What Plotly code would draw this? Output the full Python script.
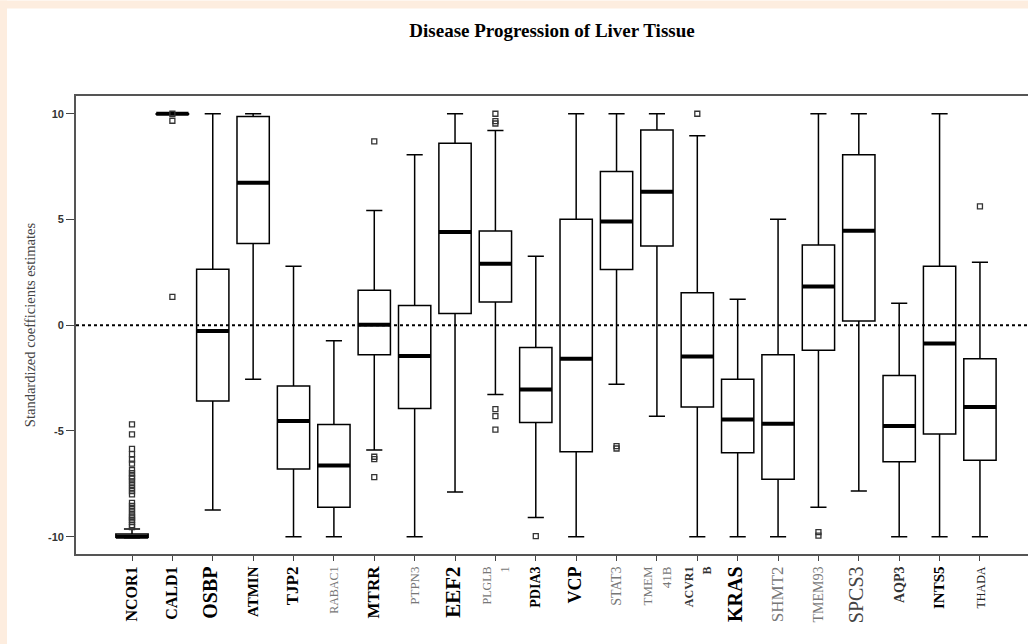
import plotly.graph_objects as go

# ---------------- data ----------------
genes = ["NCOR1", "CALD1", "OSBP", "ATMIN", "TJP2", "RABAC1", "MTRR", "PTPN3", "EEF2",
         "PLGLB1", "PDIA3", "VCP", "STAT3", "TMEM41B", "ACVR1B", "KRAS", "SHMT2",
         "TMEM93", "SPCS3", "AQP3", "INTS5", "THADA"]

q1 = [-10.03, 9.98, -3.58, 3.86, -6.80, -8.61, -1.40, -3.94, 0.55, 1.10, -4.60,
      -5.98, 2.63, 3.75, -3.87, -6.03, -7.29, -1.18, 0.20, -6.46, -5.15, -6.39]
median = [-10.0, 10.0, -0.27, 6.74, -4.53, -6.64, 0.02, -1.46, 4.41, 2.91, -3.04,
          -1.59, 4.90, 6.31, -1.48, -4.46, -4.66, 1.83, 4.47, -4.77, -0.87, -3.87]
q3 = [-9.88, 10.0, 2.65, 9.87, -2.87, -4.69, 1.65, 0.93, 8.61, 4.46, -1.05,
      5.01, 7.27, 9.23, 1.53, -2.55, -1.40, 3.79, 8.06, -2.38, 2.79, -1.59]
lower_whisker = [-10.05, 9.98, -8.74, -2.55, -10.0, -10.0, -5.90, -10.0, -7.89, -3.28, -9.09,
                 -10.0, -2.79, -4.30, -10.0, -10.0, -10.0, -8.61, -7.84, -10.0, -10.0, -10.0]
upper_whisker = [-9.64, 10.0, 10.0, 10.0, 2.79, -0.74, 5.43, 8.06, 10.0, 9.21, 3.26,
                 10.0, 10.0, 10.0, 8.96, 1.23, 5.01, 10.0, 10.0, 1.04, 10.0, 2.98]

outlier_gene = (["NCOR1"] * 25 + ["CALD1"] * 3 + ["MTRR"] * 4 + ["PLGLB1"] * 6 +
                ["PDIA3"] + ["STAT3"] * 2 + ["ACVR1B"] + ["TMEM93"] * 2 + ["THADA"])
outlier_value = ([-4.69, -5.16, -5.85, -6.10, -6.35, -6.55, -6.85, -7.00, -7.15, -7.25,
                  -7.40, -7.55, -7.70, -7.85, -8.00, -8.40, -8.55, -8.70, -8.85, -9.00,
                  -9.10, -9.20, -9.30, -9.45, -9.55] +
                 [10.0, 9.67, 1.34] +
                 [8.69, -6.22, -6.33, -7.18] +
                 [10.0, 9.65, 9.54, -3.97, -4.30, -4.94] +
                 [-9.97] +
                 [-5.72, -5.83] +
                 [10.0] +
                 [-9.79, -9.95] +
                 [5.62])

# tick label text (styled like the source figure)
tick_labels = [
    "<b><span style='font-size:16px'>NCOR1</span></b>",
    "<b><span style='font-size:16px'>CALD1</span></b>",
    "<b><span style='font-size:20px'>OSBP</span></b>",
    "<b><span style='font-size:15px'>ATMIN</span></b>",
    "<b><span style='font-size:17px'>TJP2</span></b>",
    "<span style='font-size:12px;color:#777'>RABAC1</span>",
    "<b><span style='font-size:17px'>MTRR</span></b>",
    "<span style='font-size:13px;color:#777'>PTPN3</span>",
    "<b><span style='font-size:21px'>EEF2</span></b>",
    "<span style='font-size:12px;color:#777'>PLGLB<br>1</span>",
    "<b><span style='font-size:14px'>PDIA3</span></b>",
    "<b><span style='font-size:18px'>VCP</span></b>",
    "<span style='font-size:14px;color:#777'>STAT3</span>",
    "<span style='font-size:13px;color:#777'>TMEM<br>41B</span>",
    "<b><span style='font-size:12px;color:#333'>ACVR1<br>B</span></b>",
    "<b><span style='font-size:20px'>KRAS</span></b>",
    "<span style='font-size:17px;color:#777'>SHMT2</span>",
    "<span style='font-size:14px;color:#777'>TMEM93</span>",
    "<span style='font-size:20px;color:#444'>SPCS3</span>",
    "<b><span style='font-size:14px;color:#333'>AQP3</span></b>",
    "<b><span style='font-size:15px'>INTS5</span></b>",
    "<span style='font-size:12px;color:#222'>THADA</span>",
]

y_ticks = [-10, -5, 0, 5, 10]

# ---------------- figure ----------------
pos = list(range(1, len(genes) + 1))
gene_pos = {g: p for g, p in zip(genes, pos)}
BOX_W = 0.8

fig = go.Figure()

fig.add_trace(go.Box(
    x=pos, q1=q1, median=median, q3=q3,
    lowerfence=lower_whisker, upperfence=upper_whisker,
    width=BOX_W, whiskerwidth=0.5, boxpoints=False,
    fillcolor="white", line=dict(color="black", width=1.5),
    showlegend=False, hoverinfo="skip",
))

# thick median bars
mx, my = [], []
for p, m in zip(pos, median):
    mx += [p - BOX_W / 2, p + BOX_W / 2, None]
    my += [m, m, None]
fig.add_trace(go.Scatter(x=mx, y=my, mode="lines",
                         line=dict(color="black", width=4),
                         showlegend=False, hoverinfo="skip"))

# outliers
fig.add_trace(go.Scatter(
    x=[gene_pos[g] for g in outlier_gene], y=outlier_value, mode="markers",
    marker=dict(symbol="square-open", size=5, color="#333", line=dict(width=1.3)),
    showlegend=False, hoverinfo="skip"))

# zero reference line
fig.add_shape(type="line", xref="paper", yref="y", x0=0, x1=1, y0=0, y1=0,
              line=dict(color="black", width=2, dash="dot"))

# page frame (peach strips at left and top)
L, T, B, W, H = 76, 95.5, 90, 1028, 644
pw, ph = W - L, H - T - B
def px(xp): return (xp - L) / pw
def py(yp): return (H - B - yp) / ph
peach = "#fdeddf"
fig.add_shape(type="rect", xref="paper", yref="paper", x0=px(0), x1=px(7), y0=py(H), y1=py(0),
              fillcolor=peach, line=dict(width=0), layer="below")
fig.add_shape(type="rect", xref="paper", yref="paper", x0=px(0), x1=px(W), y0=py(8), y1=py(0),
              fillcolor=peach, line=dict(width=0), layer="below")

fig.update_layout(
    width=W, height=H,
    margin=dict(l=L, r=0, t=T, b=B),
    paper_bgcolor="white", plot_bgcolor="white",
    title=dict(text="<b>Disease Progression of Liver Tissue</b>",
               font=dict(family="Liberation Serif", size=19, color="black"),
               x=0.5, xref="paper", xanchor="center",
               y=1 - 30 / H, yref="container", yanchor="middle"),
    showlegend=False,
)

fig.update_xaxes(
    range=[-0.387, 23.19], tickmode="array", tickvals=pos, ticktext=tick_labels,
    tickangle=-90, ticks="outside", ticklen=5, tickcolor="#444", tickwidth=1.3,
    tickfont=dict(family="Liberation Serif", size=14, color="black"),
    showline=True, linecolor="#555", linewidth=1.8, mirror=True,
    showgrid=False, zeroline=False,
)
fig.update_yaxes(
    range=[-10.82, 10.84], tickmode="array", tickvals=y_ticks,
    ticktext=["<b>%d</b>" % v for v in y_ticks],
    ticks="outside", ticklen=8, tickcolor="#444", tickwidth=1.3,
    tickfont=dict(family="Liberation Sans", size=11, color="#333"),
    showline=True, linecolor="#555", linewidth=1.8, mirror=False,
    showgrid=False, zeroline=False,
    title=dict(text="Standardized coefficients estimates",
               font=dict(family="Liberation Serif", size=14.5, color="#444"),
               standoff=9),
)

fig.write_html("out.html")
